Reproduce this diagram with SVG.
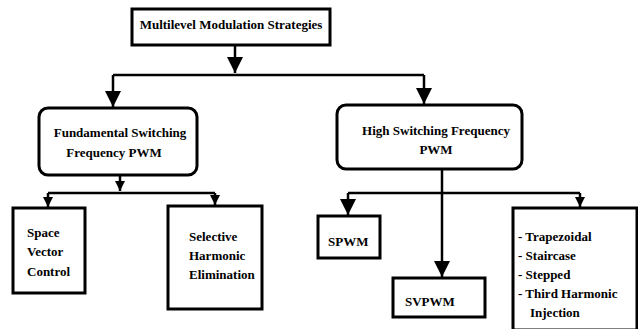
<svg xmlns="http://www.w3.org/2000/svg" width="638" height="329" viewBox="0 0 638 329">
<style>
.box{fill:#fff;stroke:#000;stroke-width:3}
.t{font-family:'Liberation Serif','DejaVu Serif',serif;font-weight:700;font-size:13px;fill:#000}
.c{stroke:#000;stroke-width:2.5;fill:none}
</style>
<defs>
<marker id="big" markerUnits="userSpaceOnUse" markerWidth="18" markerHeight="16" refX="16" refY="8" orient="auto" viewBox="0 0 16 16">
<path d="M0,0 L16,8 L0,16 Z" fill="#000"/>
</marker>
<marker id="sm" markerUnits="userSpaceOnUse" markerWidth="11" markerHeight="10" refX="10" refY="5" orient="auto" viewBox="0 0 10 10">
<path d="M0,0 L10,5 L0,10 Z" fill="#000"/>
</marker>
</defs>
<g id="connectors">
<line class="c" x1="235" y1="45" x2="235" y2="73" marker-end="url(#big)"/>
<polyline class="c" points="113,75 424,75"/>
<line class="c" x1="113" y1="75" x2="113" y2="107" marker-end="url(#big)"/>
<line class="c" x1="424" y1="75" x2="424" y2="104" marker-end="url(#big)"/>
<line class="c" x1="120" y1="175" x2="120" y2="191" marker-end="url(#sm)"/>
<polyline class="c" points="48,193 215,193"/>
<line class="c" x1="48" y1="193" x2="48" y2="207" marker-end="url(#sm)"/>
<line class="c" x1="215" y1="193" x2="215" y2="205" marker-end="url(#sm)"/>
<line class="c" x1="442" y1="169" x2="442" y2="277" marker-end="url(#big)"/>
<polyline class="c" points="348,193 580,193"/>
<line class="c" x1="348" y1="193" x2="348" y2="215" marker-end="url(#big)"/>
<line class="c" x1="580" y1="193" x2="580" y2="207" marker-end="url(#sm)"/>
</g>
<g id="root">
<rect class="box" x="132" y="9" width="198" height="36"/>
<text class="t" font-family="Liberation Serif, serif" x="231" y="29" text-anchor="middle" font-size="12">Multilevel Modulation Strategies</text>
</g>
<g id="fundamental">
<rect class="box" x="39" y="108" width="158" height="67" rx="9"/>
<text class="t" font-family="Liberation Serif, serif" x="120" y="137" text-anchor="middle">Fundamental Switching</text>
<text class="t" font-family="Liberation Serif, serif" x="114" y="157" text-anchor="middle">Frequency PWM</text>
</g>
<g id="high">
<rect class="box" x="337" y="105" width="185" height="64" rx="9"/>
<text class="t" font-family="Liberation Serif, serif" x="436" y="135" text-anchor="middle">High Switching Frequency</text>
<text class="t" font-family="Liberation Serif, serif" x="436" y="154" text-anchor="middle">PWM</text>
</g>
<g id="svc">
<rect class="box" x="13" y="208" width="72" height="85"/>
<text class="t" font-family="Liberation Serif, serif" x="27" y="237">Space</text>
<text class="t" font-family="Liberation Serif, serif" x="27" y="256">Vector</text>
<text class="t" font-family="Liberation Serif, serif" x="27" y="276">Control</text>
</g>
<g id="she">
<rect class="box" x="168" y="206" width="94" height="103"/>
<text class="t" font-family="Liberation Serif, serif" x="189" y="241">Selective</text>
<text class="t" font-family="Liberation Serif, serif" x="189" y="260">Harmonic</text>
<text class="t" font-family="Liberation Serif, serif" x="189" y="279">Elimination</text>
</g>
<g id="spwm">
<rect class="box" x="318" y="216" width="62" height="42"/>
<text class="t" font-family="Liberation Serif, serif" x="328" y="246">SPWM</text>
</g>
<g id="svpwm">
<rect class="box" x="393" y="278" width="92" height="39"/>
<text class="t" font-family="Liberation Serif, serif" x="405" y="306">SVPWM</text>
</g>
<g id="others">
<rect class="box" x="513" y="208" width="124" height="122"/>
<text class="t" font-family="Liberation Serif, serif" x="518" y="241">- Trapezoidal</text>
<text class="t" font-family="Liberation Serif, serif" x="518" y="260">- Staircase</text>
<text class="t" font-family="Liberation Serif, serif" x="518" y="279">- Stepped</text>
<text class="t" font-family="Liberation Serif, serif" x="518" y="298">- Third Harmonic</text>
<text class="t" font-family="Liberation Serif, serif" x="530" y="317">Injection</text>
</g>
</svg>
